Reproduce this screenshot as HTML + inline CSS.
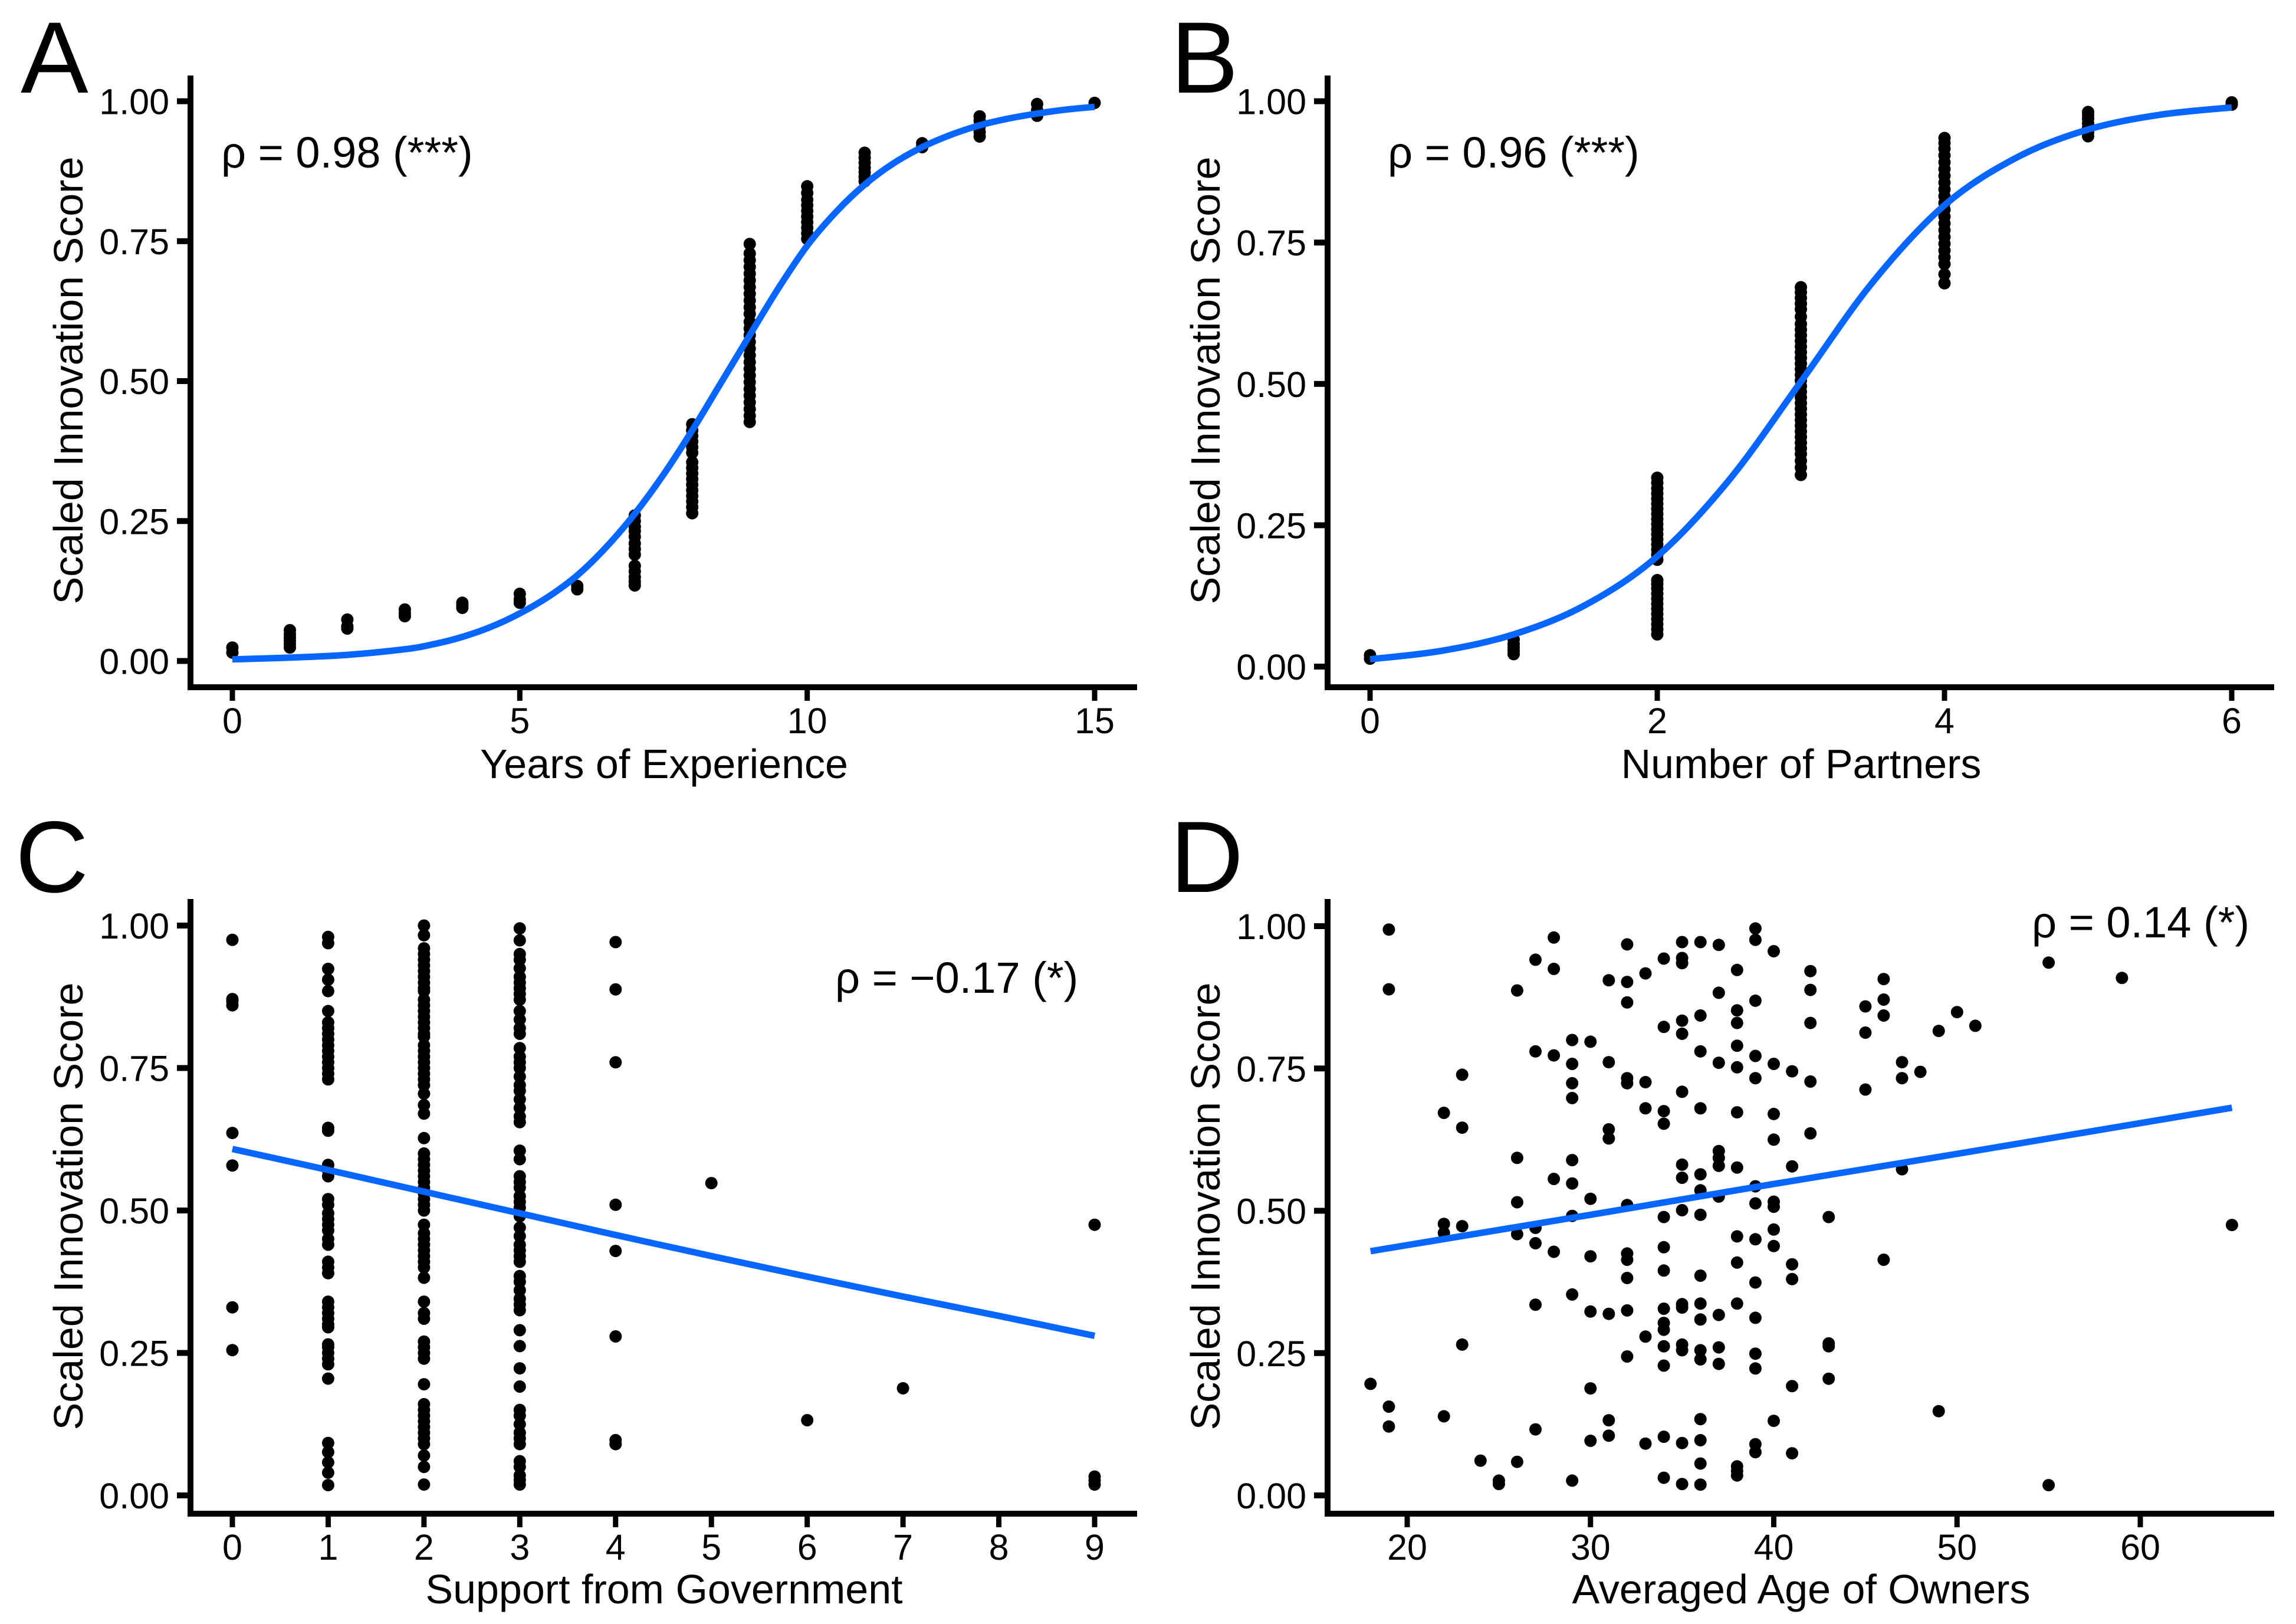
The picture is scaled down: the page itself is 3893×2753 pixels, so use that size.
<!DOCTYPE html>
<html lang="en">
<head>
<meta charset="utf-8">
<title>Scaled Innovation Score panels</title>
<style>
html,body{margin:0;padding:0;background:#fff;}
svg{display:block;}
text{font-family:"Liberation Sans",Arial,sans-serif;fill:#000;}
.tick{font-size:61px;}
.title{font-size:70px;}
.rho{font-size:74px;}
.letter{font-size:172px;}
</style>
</head>
<body>
<svg id="chart" xmlns="http://www.w3.org/2000/svg" width="3893" height="2753" viewBox="0 0 3893 2753">
  <rect x="0" y="0" width="3893" height="2753" fill="#fff"/>
  <g id="panel-a">
    <text class="letter" x="35" y="157">A</text>
    <text class="rho" x="375" y="284">ρ = 0.98 (***)</text>
    <text class="title" text-anchor="middle" transform="translate(140,645) rotate(-90)">Scaled Innovation Score</text>
    <text class="title" text-anchor="middle" x="1126" y="1319">Years of Experience</text>
  </g>
  <g id="panel-b">
    <text class="letter" x="1985" y="157">B</text>
    <text class="rho" x="2353" y="284">ρ = 0.96 (***)</text>
    <text class="title" text-anchor="middle" transform="translate(2068,645) rotate(-90)">Scaled Innovation Score</text>
    <text class="title" text-anchor="middle" x="3054" y="1319">Number of Partners</text>
  </g>
  <g id="panel-c">
    <text class="letter" x="26" y="1512">C</text>
    <text class="rho" x="1416" y="1683">ρ = −0.17 (*)</text>
    <text class="title" text-anchor="middle" transform="translate(140,2045) rotate(-90)">Scaled Innovation Score</text>
    <text class="title" text-anchor="middle" x="1126" y="2718">Support from Government</text>
  </g>
  <g id="panel-d">
    <text class="letter" x="1984" y="1512">D</text>
    <text class="rho" x="3445" y="1589">ρ = 0.14 (*)</text>
    <text class="title" text-anchor="middle" transform="translate(2068,2045) rotate(-90)">Scaled Innovation Score</text>
    <text class="title" text-anchor="middle" x="3054" y="2718">Averaged Age of Owners</text>
  </g>
</svg>
<script>
/* ---------- shared tick labels ---------- */
const yTicks = [0, 0.25, 0.5, 0.75, 1];
const yTickLabels = ["0.00", "0.25", "0.50", "0.75", "1.00"];

/* ---------- Panel A: years of experience ---------- */
const aXTicks = [0, 5, 10, 15];
const aColumnX = [0, 1, 2, 3, 4, 5, 6, 7, 8, 9, 10, 11, 12, 13, 14, 15];
const aColumnY = [
  [0.015, 0.024],
  [0.024, 0.030, 0.036, 0.042, 0.048, 0.055],
  [0.058, 0.062, 0.074],
  [0.080, 0.085, 0.092],
  [0.095, 0.100, 0.104],
  [0.104, 0.110, 0.120],
  [0.128, 0.134],
  [0.135, 0.142, 0.150, 0.160, 0.170, 0.190, 0.200, 0.210, 0.222, 0.232, 0.240, 0.250, 0.260],
  [0.264, 0.275, 0.285, 0.295, 0.305, 0.315, 0.325, 0.335, 0.345, 0.355, 0.372, 0.382, 0.392, 0.402, 0.412, 0.423],
  [0.427, 0.438, 0.450, 0.462, 0.474, 0.486, 0.498, 0.510, 0.522, 0.534, 0.546, 0.558, 0.570, 0.582, 0.594, 0.606, 0.620, 0.632, 0.644, 0.656, 0.668, 0.680, 0.692, 0.704, 0.716, 0.728, 0.745],
  [0.754, 0.764, 0.774, 0.784, 0.794, 0.804, 0.814, 0.824, 0.836, 0.848],
  [0.857, 0.865, 0.873, 0.881, 0.890, 0.899, 0.908],
  [0.918, 0.925],
  [0.937, 0.945, 0.955, 0.965, 0.973],
  [0.974, 0.984, 0.995],
  [0.997]
];
const aCurveX = [0, 1, 2, 3, 3.5, 4, 4.5, 5, 5.5, 6, 6.5, 7, 7.5, 8, 8.5, 9, 9.5, 10, 10.5, 11, 11.5, 12, 12.5, 13, 13.5, 14, 14.5, 15];
const aCurveY = [0.003, 0.006, 0.011, 0.021, 0.030, 0.043, 0.061, 0.085, 0.115, 0.153, 0.203, 0.263, 0.333, 0.412, 0.497, 0.582, 0.666, 0.742, 0.802, 0.851, 0.889, 0.918, 0.940, 0.957, 0.969, 0.978, 0.985, 0.990];

/* ---------- Panel B: number of partners ---------- */
const bXTicks = [0, 2, 4, 6];
const bColumnX = [0, 1, 2, 3, 4, 5, 6];
const bColumnY = [
  [0.014, 0.020],
  [0.022, 0.028, 0.034, 0.040, 0.048],
  [0.057, 0.066, 0.075, 0.084, 0.093, 0.102, 0.111, 0.120, 0.129, 0.138, 0.146, 0.153, 0.189, 0.198, 0.207, 0.216, 0.225, 0.234, 0.243, 0.252, 0.261, 0.270, 0.279, 0.288, 0.297, 0.306, 0.315, 0.325, 0.334],
  [0.339, 0.352, 0.364, 0.376, 0.386, 0.396, 0.406, 0.416, 0.426, 0.436, 0.446, 0.456, 0.466, 0.476, 0.486, 0.496, 0.506, 0.516, 0.526, 0.536, 0.546, 0.556, 0.566, 0.576, 0.586, 0.596, 0.606, 0.619, 0.632, 0.642, 0.652, 0.662, 0.671],
  [0.678, 0.694, 0.712, 0.724, 0.736, 0.748, 0.760, 0.772, 0.784, 0.796, 0.808, 0.820, 0.832, 0.844, 0.856, 0.868, 0.880, 0.892, 0.904, 0.916, 0.926, 0.935],
  [0.938, 0.945, 0.953, 0.961, 0.969, 0.975, 0.981],
  [0.994, 0.998]
];
const bCurveX = [0, 0.5, 1, 1.5, 2, 2.5, 3, 3.5, 4, 4.5, 5, 5.5, 6];
const bCurveY = [0.013, 0.028, 0.057, 0.109, 0.195, 0.330, 0.504, 0.680, 0.816, 0.900, 0.950, 0.976, 0.989];

/* ---------- Panel C: support from government ---------- */
const cXTicks = [0, 1, 2, 3, 4, 5, 6, 7, 8, 9];
const cColumnX = [0, 1, 2, 3, 4, 5, 6, 7, 9];
const cColumnY = [
  [0.975, 0.871, 0.867, 0.860, 0.636, 0.579, 0.330, 0.255],
  [0.980, 0.969, 0.924, 0.905, 0.885, 0.850, 0.830, 0.820, 0.810, 0.800, 0.790, 0.780, 0.770, 0.760, 0.750, 0.740, 0.730, 0.645, 0.640, 0.580, 0.570, 0.560, 0.520, 0.510, 0.495, 0.485, 0.475, 0.465, 0.450, 0.440, 0.410, 0.400, 0.390, 0.340, 0.330, 0.320, 0.310, 0.300, 0.295, 0.265, 0.260, 0.250, 0.240, 0.230, 0.205, 0.092, 0.076, 0.058, 0.040, 0.018],
  [1.000, 0.983, 0.960, 0.950, 0.940, 0.930, 0.920, 0.910, 0.900, 0.890, 0.885, 0.870, 0.860, 0.850, 0.840, 0.830, 0.820, 0.810, 0.805, 0.790, 0.780, 0.770, 0.760, 0.750, 0.740, 0.730, 0.720, 0.705, 0.685, 0.670, 0.627, 0.600, 0.590, 0.580, 0.570, 0.560, 0.550, 0.540, 0.530, 0.520, 0.510, 0.500, 0.475, 0.460, 0.450, 0.440, 0.430, 0.420, 0.410, 0.400, 0.382, 0.340, 0.320, 0.310, 0.270, 0.260, 0.250, 0.240, 0.195, 0.160, 0.150, 0.140, 0.130, 0.120, 0.110, 0.100, 0.090, 0.070, 0.050, 0.019],
  [0.995, 0.974, 0.950, 0.940, 0.925, 0.910, 0.900, 0.890, 0.880, 0.870, 0.850, 0.835, 0.820, 0.810, 0.785, 0.770, 0.760, 0.750, 0.735, 0.720, 0.710, 0.695, 0.680, 0.665, 0.655, 0.605, 0.590, 0.560, 0.550, 0.540, 0.525, 0.515, 0.505, 0.490, 0.470, 0.455, 0.440, 0.430, 0.420, 0.410, 0.385, 0.375, 0.360, 0.345, 0.335, 0.325, 0.290, 0.262, 0.223, 0.191, 0.150, 0.140, 0.125, 0.110, 0.100, 0.090, 0.060, 0.050, 0.035, 0.027, 0.019],
  [0.971, 0.888, 0.760, 0.510, 0.429, 0.279, 0.097, 0.090],
  [0.548],
  [0.132],
  [0.188],
  [0.475, 0.033, 0.026, 0.019]
];
const cCurveX = [0, 1, 2, 3, 4, 5, 6, 7, 8, 9];
const cCurveY = [0.608, 0.571, 0.533, 0.495, 0.457, 0.420, 0.384, 0.349, 0.315, 0.280];

/* ---------- Panel D: averaged age of owners ---------- */
const dXTicks = [20, 30, 40, 50, 60];
const dColumnX = [18, 19, 22, 23, 24, 25, 26, 27, 28, 29, 30, 31, 32, 33, 34, 35, 36, 37, 38, 39, 40, 41, 42, 43, 45, 46, 47, 48, 49, 50, 51, 55, 59, 65];
const dColumnY = [
  [0.196],
  [0.994, 0.889, 0.156, 0.121],
  [0.672, 0.477, 0.461, 0.139],
  [0.739, 0.646, 0.473, 0.265],
  [0.061],
  [0.026, 0.020],
  [0.887, 0.593, 0.515, 0.459, 0.059],
  [0.941, 0.780, 0.470, 0.443, 0.335, 0.116],
  [0.980, 0.925, 0.773, 0.556, 0.428],
  [0.800, 0.758, 0.724, 0.698, 0.589, 0.548, 0.491, 0.353, 0.026],
  [0.797, 0.521, 0.420, 0.323, 0.188, 0.096],
  [0.905, 0.761, 0.643, 0.627, 0.319, 0.132, 0.105],
  [0.968, 0.902, 0.866, 0.733, 0.724, 0.510, 0.425, 0.414, 0.382, 0.325, 0.244],
  [0.917, 0.726, 0.680, 0.279, 0.091],
  [0.943, 0.823, 0.675, 0.653, 0.489, 0.436, 0.395, 0.328, 0.303, 0.291, 0.262, 0.228, 0.103, 0.031],
  [0.972, 0.944, 0.935, 0.834, 0.811, 0.709, 0.581, 0.558, 0.501, 0.336, 0.330, 0.265, 0.255, 0.092, 0.020],
  [0.972, 0.843, 0.780, 0.680, 0.564, 0.536, 0.493, 0.386, 0.337, 0.309, 0.255, 0.239, 0.134, 0.097, 0.056, 0.019],
  [0.967, 0.883, 0.760, 0.605, 0.593, 0.579, 0.525, 0.317, 0.260, 0.231],
  [0.923, 0.852, 0.830, 0.790, 0.752, 0.673, 0.576, 0.455, 0.409, 0.337, 0.051, 0.043, 0.035],
  [0.996, 0.976, 0.869, 0.772, 0.733, 0.543, 0.513, 0.450, 0.374, 0.312, 0.249, 0.223, 0.090, 0.076],
  [0.956, 0.758, 0.670, 0.625, 0.516, 0.507, 0.467, 0.438, 0.131],
  [0.745, 0.578, 0.406, 0.380, 0.192, 0.074],
  [0.921, 0.888, 0.830, 0.727, 0.636],
  [0.489, 0.267, 0.262, 0.205],
  [0.859, 0.813, 0.713],
  [0.907, 0.871, 0.843, 0.414],
  [0.761, 0.733, 0.573],
  [0.744],
  [0.816, 0.148],
  [0.849],
  [0.825],
  [0.936, 0.018],
  [0.909],
  [0.475]
];
const dCurveX = [18, 30, 40, 50, 65];
const dCurveY = [0.429, 0.493, 0.547, 0.600, 0.681];

/* ---------- drawing ---------- */
const SVG_NS = "http://www.w3.org/2000/svg";

function makeScale(d0, r0, d1, r1) {
  return function (v) { return r0 + (v - d0) * (r1 - r0) / (d1 - d0); };
}

function smoothPath(pts) {
  let d = "M" + pts[0][0].toFixed(1) + " " + pts[0][1].toFixed(1);
  for (let i = 0; i < pts.length - 1; i++) {
    const p0 = pts[Math.max(i - 1, 0)];
    const p1 = pts[i];
    const p2 = pts[i + 1];
    const p3 = pts[Math.min(i + 2, pts.length - 1)];
    const c1x = p1[0] + (p2[0] - p0[0]) / 6;
    const c1y = p1[1] + (p2[1] - p0[1]) / 6;
    const c2x = p2[0] - (p3[0] - p1[0]) / 6;
    const c2y = p2[1] - (p3[1] - p1[1]) / 6;
    d += "C" + c1x.toFixed(1) + " " + c1y.toFixed(1) + " " + c2x.toFixed(1) + " " + c2y.toFixed(1) + " " + p2[0].toFixed(1) + " " + p2[1].toFixed(1);
  }
  return d;
}

function drawPanel(cfg) {
  const root = document.getElementById(cfg.id);
  const x = cfg.x;
  const y = cfg.y;

  const yAxis = document.createElementNS(SVG_NS, "rect");
  
  
  yAxis.setAttribute("x", cfg.axisX - 5);
  yAxis.setAttribute("y", cfg.axisTop);
  yAxis.setAttribute("width", 10);
  yAxis.setAttribute("height", cfg.axisY + 5 - cfg.axisTop);
  root.appendChild(yAxis);

  const xAxis = document.createElementNS(SVG_NS, "rect");
  
  
  xAxis.setAttribute("x", cfg.axisX - 5);
  xAxis.setAttribute("y", cfg.axisY - 5);
  xAxis.setAttribute("width", cfg.axisRight - cfg.axisX + 5);
  xAxis.setAttribute("height", 10);
  root.appendChild(xAxis);

  yTicks.forEach(function (t, i) {
    const mark = document.createElementNS(SVG_NS, "rect");
    
    
    mark.setAttribute("x", cfg.axisX - 23);
    mark.setAttribute("y", y(t) - 5);
    mark.setAttribute("width", 18);
    mark.setAttribute("height", 10);
    root.appendChild(mark);

    const label = document.createElementNS(SVG_NS, "text");
    
    
    label.setAttribute("class", "tick");
    label.setAttribute("text-anchor", "end");
    label.setAttribute("x", cfg.axisX - 36);
    label.setAttribute("y", y(t) + 22);
    label.textContent = yTickLabels[i];
    root.appendChild(label);
  });

  cfg.xTicks.forEach(function (t) {
    const mark = document.createElementNS(SVG_NS, "rect");
    
    
    mark.setAttribute("x", x(t) - 4.5);
    mark.setAttribute("y", cfg.axisY + 5);
    mark.setAttribute("width", 9);
    mark.setAttribute("height", 18);
    root.appendChild(mark);

    const label = document.createElementNS(SVG_NS, "text");
    
    
    label.setAttribute("class", "tick");
    label.setAttribute("text-anchor", "middle");
    label.setAttribute("x", x(t));
    label.setAttribute("y", cfg.axisY + 78);
    label.textContent = String(t);
    root.appendChild(label);
  });

  cfg.columnX.forEach(function (cx, i) {
    cfg.columnY[i].forEach(function (v) {
      const dot = document.createElementNS(SVG_NS, "circle");
      
      
      dot.setAttribute("cx", x(cx).toFixed(1));
      dot.setAttribute("cy", y(v).toFixed(1));
      dot.setAttribute("r", 10.5);
      dot.setAttribute("fill", "#000");
      root.appendChild(dot);
    });
  });

  const pts = cfg.curveX.map(function (cx, i) { return [x(cx), y(cfg.curveY[i])]; });
  const line = document.createElementNS(SVG_NS, "path");
  
  
  line.setAttribute("d", smoothPath(pts));
  line.setAttribute("fill", "none");
  line.setAttribute("stroke", "#0766ff");
  line.setAttribute("stroke-width", 11);
  root.appendChild(line);
}

drawPanel({
  id: "panel-a", axisX: 323, axisY: 1165, axisTop: 128, axisRight: 1928,
  x: makeScale(0, 394, 15, 1856), y: makeScale(0, 1120.5, 1, 171.6),
  xTicks: aXTicks, columnX: aColumnX, columnY: aColumnY, curveX: aCurveX, curveY: aCurveY
});
drawPanel({
  id: "panel-b", axisX: 2251, axisY: 1165, axisTop: 128, axisRight: 3856,
  x: makeScale(0, 2323, 6, 3784), y: makeScale(0, 1130, 1, 171.6),
  xTicks: bXTicks, columnX: bColumnX, columnY: bColumnY, curveX: bCurveX, curveY: bCurveY
});
drawPanel({
  id: "panel-c", axisX: 323, axisY: 2566, axisTop: 1524, axisRight: 1928,
  x: makeScale(0, 394, 9, 1856), y: makeScale(0, 2535, 1, 1569),
  xTicks: cXTicks, columnX: cColumnX, columnY: cColumnY, curveX: cCurveX, curveY: cCurveY
});
drawPanel({
  id: "panel-d", axisX: 2251, axisY: 2566, axisTop: 1524, axisRight: 3856,
  x: makeScale(20, 2386, 60, 3629), y: makeScale(0, 2535, 1, 1570),
  xTicks: dXTicks, columnX: dColumnX, columnY: dColumnY, curveX: dCurveX, curveY: dCurveY
});
</script>
</body>
</html>
